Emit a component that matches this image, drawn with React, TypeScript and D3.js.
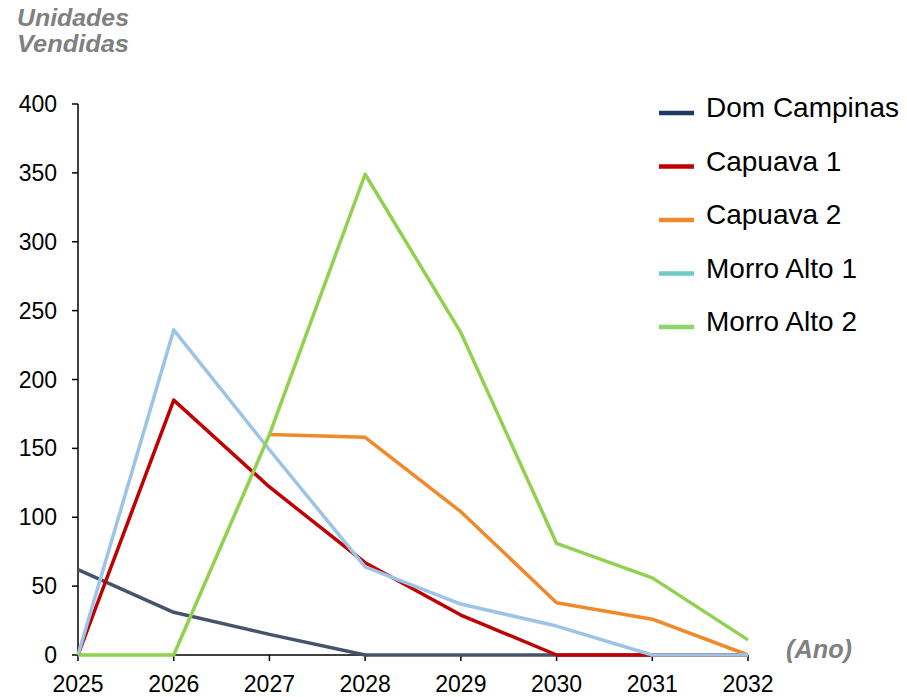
import React from "react";
import * as d3 from "d3";

// Annual units sold per development
const years = [2025, 2026, 2027, 2028, 2029, 2030, 2031, 2032];
const domCampinas = [62, 31, 15, 0, 0, 0, 0, 0];
const capuava1 = [0, 185, 122, 67, 29, 0, 0, 0];
const capuava2: (number | null)[] = [null, null, 160, 158, 104, 38, 26, 0];
const morroAlto1 = [0, 236, 149, 64, 37, 21, 0, 0];
const morroAlto2 = [0, 0, 160, 349, 234, 81, 56, 11];
const yTicks = [0, 50, 100, 150, 200, 250, 300, 350, 400];

const seriesNames = ["Dom Campinas", "Capuava 1", "Capuava 2", "Morro Alto 1", "Morro Alto 2"];
const seriesValues = [domCampinas, capuava1, capuava2, morroAlto1, morroAlto2];
const lineColors = ["#44546A", "#C00000", "#EE8A2A", "#9DC3E6", "#92D050"];
const legendColors = ["#1F3864", "#C00000", "#EE8A2A", "#6FCBC6", "#8BD56B"];

const W = 907;
const H = 697;
const FONT = "'Liberation Sans', Arial, sans-serif";

export default function App() {
  const x = d3.scaleLinear().domain([years[0], years[years.length - 1]]).range([78, 748]);
  const y = d3.scaleLinear().domain([0, 400]).range([655, 104]);

  const line = d3
    .line<number | null>()
    .defined((d) => d !== null)
    .x((_, i) => x(years[i]))
    .y((d) => y(d as number));

  return (
    <svg
      width={W}
      height={H}
      style={{ position: "absolute", left: 0, top: 0, background: "#fff" }}
      fontFamily={FONT}
    >
      <rect width={W} height={H} fill="#fff" />

      {/* axis titles */}
      <g fill="#808080" fontWeight="bold" fontStyle="italic" fontSize={24}>
        <text x={17} y={26} textLength={112} lengthAdjust="spacingAndGlyphs">Unidades</text>
        <text x={17} y={52} textLength={112} lengthAdjust="spacingAndGlyphs">Vendidas</text>
      </g>
      <text x={786} y={658} fill="#808080" fontWeight="bold" fontStyle="italic" fontSize={25}
        textLength={66} lengthAdjust="spacingAndGlyphs">
        (Ano)
      </text>

      {/* y axis */}
      <line x1={78} x2={78} y1={y(400)} y2={y(0)} stroke="#000" strokeWidth={1.5} />
      {yTicks.map((t) => (
        <g key={t}>
          <line x1={72} x2={78} y1={y(t)} y2={y(t)} stroke="#000" strokeWidth={1.5} />
          <text x={57} y={y(t) + 8} textAnchor="end" fontSize={23} fill="#000">
            {t}
          </text>
        </g>
      ))}

      {/* x axis */}
      <line x1={x(years[0])} x2={x(years[years.length - 1])} y1={y(0)} y2={y(0)} stroke="#000" strokeWidth={1.5} />
      {years.map((yr) => (
        <g key={yr}>
          <line x1={x(yr)} x2={x(yr)} y1={y(0)} y2={y(0) + 6} stroke="#000" strokeWidth={1.5} />
          <text x={x(yr)} y={692} textAnchor="middle" fontSize={23} fill="#000">
            {yr}
          </text>
        </g>
      ))}

      {/* series */}
      {seriesValues.map((vals, i) => (
        <path
          key={seriesNames[i]}
          d={line(vals) || ""}
          fill="none"
          stroke={lineColors[i]}
          strokeWidth={3.5}
          strokeLinejoin="round"
        />
      ))}

      {/* legend */}
      {seriesNames.map((name, i) => {
        const base = 117 + i * 53.5;
        return (
          <g key={name}>
            <line x1={659} x2={694} y1={base - 4} y2={base - 4} stroke={legendColors[i]} strokeWidth={4.5} />
            <text x={706} y={base} fontSize={28} fill="#000">
              {name}
            </text>
          </g>
        );
      })}
    </svg>
  );
}
